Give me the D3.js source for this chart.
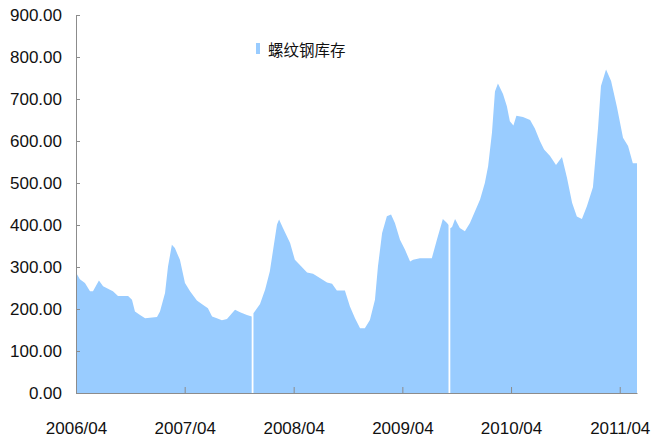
<!DOCTYPE html>
<html>
<head>
<meta charset="utf-8">
<script src="https://cdn.jsdelivr.net/npm/d3@7"></script>
<style>
  body { margin: 0; background: #fff; }
  .axis text { font-family: "Liberation Sans", Arial, sans-serif; font-size: 17px; fill: #111; }
  .axis path, .axis line { stroke: #8c8c8c; }
</style>
</head>
<body>
<div id="chart"></div>
<script>
// rebar inventory, weekly readings (null = missing week)
var dates = [
  "2006-04-02","2006-04-14","2006-05-01","2006-05-18","2006-05-28","2006-06-17","2006-07-01","2006-07-24",
  "2006-08-03","2006-08-20","2006-09-23","2006-10-06","2006-10-16","2006-11-02","2006-11-19","2006-12-29",
  "2007-01-08","2007-01-25","2007-02-04","2007-02-17","2007-02-27","2007-03-16","2007-04-02","2007-04-19",
  "2007-05-12","2007-06-01","2007-06-18","2007-07-02","2007-07-18","2007-08-04","2007-08-21","2007-09-17",
  "2007-10-04","2007-10-27","2007-11-12","2007-11-15","2007-11-18","2007-11-24","2007-12-10","2007-12-27",
  "2008-01-12","2008-01-23","2008-02-05","2008-02-12","2008-02-25","2008-03-20","2008-04-05","2008-04-22",
  "2008-05-16","2008-06-05","2008-06-28","2008-07-22","2008-08-08","2008-08-24","2008-09-20","2008-10-07",
  "2008-10-24","2008-11-10","2008-11-26","2008-12-13","2008-12-30","2009-01-09","2009-01-23","2009-02-08",
  "2009-02-22","2009-03-07","2009-03-24","2009-04-10","2009-04-27","2009-05-07","2009-05-30","2009-06-26",
  "2009-07-09","2009-07-26","2009-08-15","2009-08-29","2009-09-03","2009-09-06","2009-09-09","2009-09-15",
  "2009-09-25","2009-10-11","2009-10-28","2009-11-14","2009-12-01","2009-12-18","2010-01-03","2010-01-14",
  "2010-01-27","2010-02-06","2010-02-16","2010-03-05","2010-03-18","2010-03-28","2010-04-09","2010-04-19",
  "2010-05-11","2010-06-04","2010-06-20","2010-07-07","2010-07-21","2010-08-10","2010-08-30","2010-09-19",
  "2010-10-06","2010-10-23","2010-11-08","2010-11-25","2010-12-12","2011-01-01","2011-01-18","2011-01-28",
  "2011-02-14","2011-03-03","2011-03-23","2011-04-12","2011-04-29","2011-05-15","2011-05-29"
];
var stock = [
  286, 271, 262, 242, 242, 268, 254, 246,
  242, 231, 231, 222, 194, 186, 178, 181,
  194, 238, 301, 353, 345, 317, 262, 242,
  220, 210, 202, 182, 178, 173, 176, 198,
  192, 186, 182, null, 190, 196, 212, 246,
  290, 341, 401, 413, 393, 357, 317, 305,
  287, 284, 274, 263, 260, 244, 244, 206,
  178, 154, 154, 174, 222, 301, 381, 421,
  425, 405, 365, 341, 313, 317, 321, 321,
  321, 365, 414, 405, 400, null, 392, 395,
  414, 393, 385, 405, 433, 461, 500, 540,
  620, 718, 737, 712, 683, 647, 637, 660,
  657, 650, 630, 600, 580, 564, 543, 562,
  512, 453, 420, 414, 445, 490, 630, 731,
  770, 743, 680, 608, 588, 547, 547
];
var xTickLabels = ["2006/04", "2007/04", "2008/04", "2009/04", "2010/04", "2011/04"];
var yTicks = [0, 100, 200, 300, 400, 500, 600, 700, 800, 900];
var seriesName = "螺纹钢库存";

var parseDate = d3.timeParse("%Y-%m-%d");
var parseTick = d3.timeParse("%Y/%m");

var data = dates.map(function(d, i) {
  return { date: parseDate(d), value: stock[i] };
});

var width = 652, height = 445;
var plot = { left: 76, right: 637, top: 15, bottom: 393 };

var svg = d3.select("#chart")
  .append("svg")
  .attr("width", width)
  .attr("height", height);

var xScale = d3.scaleTime()
  .domain([parseDate("2006-04-01"), parseDate("2011-05-29")])
  .range([plot.left, plot.right]);

var yScale = d3.scaleLinear()
  .domain([0, 900])
  .range([plot.bottom, plot.top]);

// Area
var area = d3.area()
  .defined(function(d) { return d.value != null; })
  .x(function(d) { return xScale(d.date); })
  .y0(yScale(0))
  .y1(function(d) { return yScale(d.value); });

svg.append("path")
  .datum(data)
  .attr("fill", "#99ccff")
  .attr("d", area);

// Axis
var xAxis = d3.axisBottom(xScale)
  .tickValues(xTickLabels.map(function(t) { return parseTick(t); }))
  .tickFormat(d3.timeFormat("%Y/%m"))
  .tickSizeInner(-6)
  .tickSizeOuter(0)
  .tickPadding(29);

var yAxis = d3.axisLeft(yScale)
  .tickValues(yTicks)
  .tickFormat(d3.format(".2f"))
  .tickSizeInner(-4)
  .tickSizeOuter(0)
  .tickPadding(14);

svg.append("g")
  .attr("class", "axis")
  .attr("transform", "translate(0," + plot.bottom + ")")
  .call(xAxis);

svg.append("g")
  .attr("class", "axis")
  .attr("transform", "translate(" + plot.left + ",0)")
  .call(yAxis);

// Legend
var legend = svg.append("g").attr("transform", "translate(256,43)");
legend.append("rect")
  .attr("width", 4)
  .attr("height", 11)
  .attr("fill", "#99ccff");
legend.append("text")
  .attr("x", 12)
  .attr("y", 6)
  .attr("dominant-baseline", "central")
  .style("font-family", "'Noto Sans CJK SC', sans-serif")
  .style("font-size", "15.5px")
  .style("fill", "#111")
  .text(seriesName);
</script>
</body>
</html>
